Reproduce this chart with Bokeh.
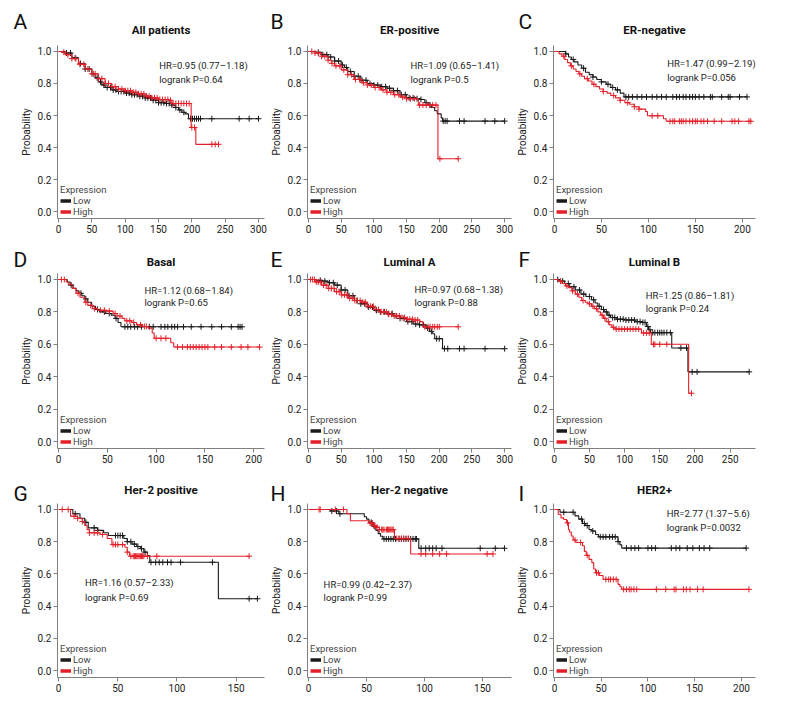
import numpy as np
from bokeh.plotting import figure
from bokeh.layouts import column, row
from bokeh.models import Label, Legend, LegendItem, FixedTicker, PrintfTickFormatter, Title
from bokeh.embed import file_html
from bokeh.resources import INLINE

# ---------------- data ----------------
# Panel A  All patients
A_low_t = [0, 10, 20, 30, 40, 50, 55, 60, 65, 70, 80, 90, 100, 110, 120, 130, 140, 150, 160, 170, 175, 180, 185, 190, 195, 300]
A_low_s = [1.0, 0.99, 0.96, 0.925, 0.89, 0.86, 0.835, 0.81, 0.79, 0.775, 0.76, 0.75, 0.74, 0.73, 0.72, 0.71, 0.695, 0.68, 0.675, 0.665, 0.65, 0.635, 0.62, 0.61, 0.58, 0.58]
A_low_c = [12, 18, 25, 33, 40, 46, 52, 58, 63, 68, 73, 78, 82, 86, 90, 94, 98, 102, 106, 110, 114, 118, 122, 126, 130, 134, 138, 142, 146, 150, 154, 158, 162, 166, 170, 176, 182, 188, 198, 201, 204, 207, 210, 213, 230, 271, 286, 300]
A_high_t = [0, 5, 10, 20, 30, 40, 50, 60, 70, 80, 90, 100, 110, 120, 130, 140, 150, 165, 170, 199, 206, 240]
A_high_s = [1.0, 0.995, 0.98, 0.955, 0.92, 0.89, 0.86, 0.83, 0.80, 0.78, 0.765, 0.755, 0.745, 0.735, 0.72, 0.71, 0.70, 0.695, 0.675, 0.525, 0.42, 0.42]
A_high_c = [8, 14, 20, 26, 32, 38, 44, 50, 55, 60, 65, 70, 75, 80, 85, 90, 95, 100, 104, 108, 112, 116, 120, 124, 128, 132, 136, 140, 144, 148, 152, 156, 160, 164, 168, 172, 176, 180, 184, 188, 192, 196, 200, 204, 230, 235, 240]

# Panel B  ER-positive
B_low_t = [0, 10, 20, 30, 40, 50, 55, 60, 70, 80, 90, 100, 110, 120, 130, 140, 150, 165, 172, 178, 183, 188, 193, 197, 203, 205, 300]
B_low_s = [1.0, 0.995, 0.98, 0.965, 0.94, 0.915, 0.90, 0.875, 0.845, 0.82, 0.80, 0.79, 0.78, 0.77, 0.755, 0.73, 0.71, 0.705, 0.70, 0.68, 0.665, 0.65, 0.63, 0.61, 0.585, 0.565, 0.565]
B_low_c = [15, 22, 28, 34, 40, 46, 52, 58, 64, 70, 76, 82, 88, 94, 100, 106, 112, 118, 124, 130, 136, 142, 148, 154, 160, 166, 172, 180, 186, 206, 209, 212, 231, 238, 270, 285, 300]
B_high_t = [0, 10, 20, 30, 35, 40, 50, 60, 70, 80, 90, 100, 110, 120, 130, 140, 150, 168, 198, 229]
B_high_s = [1.0, 0.99, 0.97, 0.945, 0.925, 0.91, 0.885, 0.855, 0.825, 0.805, 0.79, 0.775, 0.76, 0.745, 0.73, 0.715, 0.705, 0.665, 0.33, 0.33]
B_high_c = [5, 10, 15, 20, 25, 30, 36, 42, 48, 54, 60, 66, 72, 78, 84, 90, 96, 102, 108, 114, 120, 126, 132, 138, 144, 150, 156, 162, 170, 175, 180, 185, 190, 195, 201, 229]

# Panel C  ER-negative
C_low_t = [0, 12, 15, 18, 21, 25, 29, 33, 37, 41, 45, 50, 55, 60, 65, 70, 74, 205]
C_low_s = [1.0, 0.985, 0.965, 0.95, 0.935, 0.915, 0.895, 0.87, 0.855, 0.84, 0.825, 0.81, 0.795, 0.775, 0.76, 0.74, 0.716, 0.716]
C_low_c = [12, 20, 31, 41, 50, 57, 62, 67, 76, 79, 83, 88, 93, 98, 104, 109, 114, 119, 126, 130, 133, 137, 140, 144, 147, 150, 154, 159, 166, 168, 178, 185, 187, 197, 205]
C_high_t = [0, 5, 8, 11, 14, 17, 20, 23, 26, 29, 32, 36, 40, 44, 48, 52, 56, 60, 65, 70, 75, 80, 85, 90, 97, 99, 116, 119, 209]
C_high_s = [1.0, 0.985, 0.97, 0.95, 0.93, 0.91, 0.89, 0.875, 0.86, 0.845, 0.83, 0.815, 0.795, 0.78, 0.765, 0.75, 0.74, 0.725, 0.71, 0.695, 0.68, 0.67, 0.655, 0.64, 0.625, 0.598, 0.58, 0.564, 0.564]
C_high_c = [10, 18, 27, 35, 42, 52, 63, 70, 78, 85, 90, 104, 110, 123, 126, 128, 133, 135, 137, 140, 144, 147, 150, 152, 156, 159, 163, 170, 178, 189, 192, 196, 207, 209]

# Panel D  Basal
D_low_t = [0, 9, 12, 15, 18, 21, 24, 27, 30, 34, 38, 42, 48, 54, 58, 61, 64, 188]
D_low_s = [1.0, 0.985, 0.965, 0.945, 0.93, 0.915, 0.90, 0.88, 0.86, 0.835, 0.815, 0.80, 0.79, 0.78, 0.76, 0.735, 0.708, 0.708]
D_low_c = [13, 23, 28, 40, 47, 52, 59, 68, 71, 74, 78, 81, 85, 93, 97, 105, 109, 112, 116, 119, 122, 128, 136, 146, 157, 167, 177, 184, 186, 188]
D_high_t = [0, 8, 10, 14, 18, 22, 27, 30, 35, 40, 50, 56, 60, 65, 68, 75, 80, 86, 92, 96, 98, 115, 118, 206]
D_high_s = [1.0, 0.985, 0.97, 0.945, 0.915, 0.89, 0.86, 0.84, 0.82, 0.81, 0.805, 0.79, 0.775, 0.76, 0.745, 0.735, 0.72, 0.71, 0.70, 0.67, 0.637, 0.61, 0.583, 0.583]
D_high_c = [3, 6, 20, 28, 33, 37, 43, 47, 52, 58, 63, 70, 73, 77, 84, 88, 90, 100, 105, 110, 122, 127, 132, 135, 138, 141, 144, 147, 150, 153, 160, 167, 177, 187, 194, 206]

# Panel E  Luminal A
E_low_t = [0, 10, 20, 30, 40, 50, 60, 70, 80, 90, 100, 110, 120, 130, 140, 150, 160, 170, 180, 185, 190, 193, 205, 300]
E_low_s = [1.0, 0.995, 0.99, 0.98, 0.965, 0.935, 0.90, 0.87, 0.85, 0.83, 0.81, 0.80, 0.79, 0.775, 0.76, 0.74, 0.725, 0.72, 0.70, 0.68, 0.665, 0.635, 0.573, 0.573]
E_low_c = [18, 25, 32, 38, 44, 50, 56, 62, 68, 74, 80, 86, 92, 98, 104, 110, 116, 122, 128, 134, 140, 146, 152, 158, 164, 170, 176, 182, 188, 196, 200, 208, 213, 231, 238, 270, 300]
E_high_t = [0, 10, 20, 30, 40, 50, 60, 70, 80, 90, 100, 110, 120, 130, 140, 150, 160, 170, 175, 229]
E_high_s = [1.0, 0.985, 0.965, 0.945, 0.925, 0.905, 0.885, 0.87, 0.86, 0.835, 0.815, 0.80, 0.785, 0.775, 0.765, 0.755, 0.75, 0.74, 0.708, 0.708]
E_high_c = [3, 6, 9, 12, 15, 19, 23, 27, 31, 35, 39, 43, 47, 51, 55, 59, 63, 67, 71, 75, 79, 83, 87, 91, 95, 99, 103, 107, 111, 115, 119, 123, 127, 131, 135, 139, 143, 147, 151, 155, 159, 163, 167, 178, 183, 186, 190, 193, 197, 200, 229]

# Panel F  Luminal B
F_low_t = [0, 8, 15, 22, 30, 38, 45, 53, 58, 62, 67, 71, 76, 80, 88, 100, 115, 125, 131, 134, 137, 167, 190, 277]
F_low_s = [1.0, 0.99, 0.975, 0.955, 0.935, 0.91, 0.895, 0.875, 0.855, 0.835, 0.815, 0.80, 0.78, 0.765, 0.755, 0.75, 0.74, 0.735, 0.71, 0.69, 0.672, 0.577, 0.43, 0.43]
F_low_c = [5, 12, 20, 28, 36, 42, 50, 56, 64, 70, 74, 78, 83, 86, 90, 94, 98, 102, 106, 110, 114, 118, 122, 126, 129, 133, 136, 140, 143, 147, 150, 153, 156, 160, 165, 180, 188, 196, 203, 277]
F_high_t = [0, 6, 11, 16, 20, 25, 30, 35, 39, 44, 48, 53, 57, 62, 66, 70, 74, 78, 82, 86, 124, 138, 191, 195]
F_high_s = [1.0, 0.99, 0.975, 0.96, 0.95, 0.93, 0.91, 0.89, 0.87, 0.86, 0.85, 0.835, 0.82, 0.80, 0.78, 0.76, 0.74, 0.72, 0.705, 0.694, 0.67, 0.60, 0.298, 0.298]
F_high_c = [9, 18, 26, 33, 41, 50, 55, 60, 68, 72, 77, 84, 88, 92, 96, 100, 104, 108, 112, 116, 120, 127, 131, 135, 141, 143, 150, 160, 195]

# Panel G  Her-2 positive
G_low_t = [0, 12, 18, 22, 25, 33, 38, 42, 55, 58, 62, 66, 69, 72, 75, 77, 135, 168]
G_low_s = [1.0, 0.973, 0.945, 0.92, 0.886, 0.87, 0.855, 0.838, 0.82, 0.80, 0.785, 0.77, 0.757, 0.735, 0.714, 0.672, 0.446, 0.446]
G_low_c = [14, 23, 30, 33, 48, 50, 52, 54, 58, 61, 64, 67, 70, 73, 78, 82, 85, 88, 92, 95, 103, 130, 161, 168]
G_high_t = [0, 10, 16, 20, 22, 24, 26, 35, 41, 45, 56, 58, 60, 161]
G_high_s = [1.0, 0.958, 0.945, 0.925, 0.90, 0.875, 0.855, 0.845, 0.82, 0.782, 0.765, 0.735, 0.71, 0.71]
G_high_c = [3, 8, 13, 16, 20, 26, 30, 33, 37, 46, 48, 50, 54, 58, 61, 63, 64, 65, 66, 67, 68, 69, 70, 71, 72, 75, 83, 161]

# Panel H  Her-2 negative
H_low_t = [0, 19, 26, 48, 50, 52, 55, 58, 60, 62, 64, 95, 169]
H_low_s = [1.0, 0.99, 0.973, 0.955, 0.94, 0.92, 0.895, 0.87, 0.85, 0.834, 0.817, 0.759, 0.759]
H_low_c = [20, 24, 27, 54, 57, 65, 67, 69, 71, 73, 75, 78, 80, 82, 84, 86, 88, 90, 92, 93, 97, 101, 104, 107, 110, 115, 148, 161, 169]
H_high_t = [0, 33, 36, 52, 56, 58, 61, 74, 88, 159]
H_high_s = [1.0, 0.973, 0.93, 0.915, 0.90, 0.89, 0.875, 0.82, 0.724, 0.724]
H_high_c = [9, 10, 23, 30, 53, 55, 56, 57, 59, 61, 63, 64, 65, 67, 68, 69, 70, 71, 72, 73, 76, 78, 80, 82, 84, 86, 97, 101, 107, 113, 119, 154, 159]

# Panel I  HER2+
I_low_t = [0, 6, 22, 26, 30, 33, 37, 40, 44, 47, 68, 70, 72, 205]
I_low_s = [1.0, 0.983, 0.96, 0.94, 0.913, 0.90, 0.876, 0.866, 0.845, 0.83, 0.80, 0.78, 0.76, 0.76]
I_low_c = [10, 20, 29, 32, 35, 41, 49, 52, 55, 59, 62, 65, 68, 77, 82, 86, 90, 100, 104, 108, 125, 130, 134, 142, 148, 155, 160, 166, 205]
I_high_t = [0, 4, 7, 10, 13, 15, 16, 18, 20, 23, 30, 32, 34, 37, 40, 42, 44, 48, 52, 68, 70, 72, 208]
I_high_s = [1.0, 0.97, 0.948, 0.938, 0.917, 0.876, 0.86, 0.835, 0.81, 0.795, 0.775, 0.74, 0.715, 0.69, 0.67, 0.63, 0.607, 0.59, 0.566, 0.535, 0.52, 0.504, 0.504]
I_high_c = [14, 22, 28, 35, 45, 47, 55, 58, 60, 63, 66, 74, 77, 80, 82, 85, 88, 109, 119, 128, 130, 138, 141, 145, 153, 159, 208]

titles = ["All patients", "ER-positive", "ER-negative", "Basal", "Luminal A", "Luminal B",
          "Her-2 positive", "Her-2 negative", "HER2+"]
letters = ["A", "B", "C", "D", "E", "F", "G", "H", "I"]
hr_text = ["HR=0.95 (0.77–1.18)", "HR=1.09 (0.65–1.41)", "HR=1.47 (0.99–2.19)",
           "HR=1.12 (0.68–1.84)", "HR=0.97 (0.68–1.38)", "HR=1.25 (0.86–1.81)",
           "HR=1.16 (0.57–2.33)", "HR=0.99 (0.42–2.37)", "HR=2.77 (1.37–5.6)"]
p_text = ["logrank P=0.64", "logrank P=0.5", "logrank P=0.056",
          "logrank P=0.65", "logrank P=0.88", "logrank P=0.24",
          "logrank P=0.69", "logrank P=0.99", "logrank P=0.0032"]
x_ticks = [[0, 50, 100, 150, 200, 250, 300], [0, 50, 100, 150, 200, 250, 300], [0, 50, 100, 150, 200],
           [0, 50, 100, 150, 200], [0, 50, 100, 150, 200, 250, 300], [0, 50, 100, 150, 200, 250],
           [0, 50, 100, 150], [0, 50, 100, 150], [0, 50, 100, 150, 200]]
y_ticks = [0.0, 0.2, 0.4, 0.6, 0.8, 1.0]
legend_labels = ["Low", "High"]

curves = {
    "A": (A_low_t, A_low_s, A_low_c, A_high_t, A_high_s, A_high_c),
    "B": (B_low_t, B_low_s, B_low_c, B_high_t, B_high_s, B_high_c),
    "C": (C_low_t, C_low_s, C_low_c, C_high_t, C_high_s, C_high_c),
    "D": (D_low_t, D_low_s, D_low_c, D_high_t, D_high_s, D_high_c),
    "E": (E_low_t, E_low_s, E_low_c, E_high_t, E_high_s, E_high_c),
    "F": (F_low_t, F_low_s, F_low_c, F_high_t, F_high_s, F_high_c),
    "G": (G_low_t, G_low_s, G_low_c, G_high_t, G_high_s, G_high_c),
    "H": (H_low_t, H_low_s, H_low_c, H_high_t, H_high_s, H_high_c),
    "I": (I_low_t, I_low_s, I_low_c, I_high_t, I_high_s, I_high_c),
}

# ---------------- styles / layout ----------------
FONT = "Roboto"
BLACK = "#1a1a1a"
RED = "#e3202a"
AXIS = "#808080"
Y_RANGE = (-0.043, 1.037)
x_ranges = [(-1.5, 309), (-1.5, 310.5), (-1, 214), (-1, 211), (-1.5, 310.5), (-1, 286),
            (-1, 174), (-1, 175), (-1, 215)]
hr_pos = [(151, 0.91, 0.825), (156, 0.91, 0.825), (120, 0.925, 0.84),
          (88, 0.933, 0.856), (162, 0.94, 0.86), (130, 0.90, 0.82),
          (22.3, 0.544, 0.456), (12.9, 0.533, 0.454), (120, 0.975, 0.886)]
col_w = [267, 246, 250]
col_border = [(57, 3), (37, 2), (35, 8)]
row_h = [240, 230, 234]
row_border = [(45, 22), (33, 22), (33, 27)]
letter_dx = [-44, -37, -35, -44, -37, -35, -44, -37, -35]
row_title_standoff = [17.4, 8.4, 14]
row_letter_standoff = [-42, -45.4, -65]


def surv_at(t, s, c):
    idx = np.searchsorted(np.asarray(t), np.asarray(c), side="right") - 1
    return np.asarray(s)[idx]


def make_panel(i):
    r, c = divmod(i, 3)
    key = letters[i]
    lt, ls, lc, ht, hs, hc = curves[key]
    xs, xe = x_ranges[i]
    p = figure(width=col_w[c], height=row_h[r], x_range=(xs, xe), y_range=Y_RANGE,
               output_backend="svg", toolbar_location=None,
               min_border_left=col_border[c][0], min_border_right=col_border[c][1],
               min_border_top=row_border[r][0], min_border_bottom=row_border[r][1])
    p.outline_line_color = None
    p.grid.visible = False

    # panel letter = plot title (outermost), panel name = inner title
    p.title.text = key
    p.title.align = "left"
    p.title.offset = letter_dx[i]
    p.title.text_font = FONT
    p.title.text_font_size = "21px"
    p.title.text_font_style = "normal"
    p.title.text_color = "#111111"
    p.title.standoff = row_letter_standoff[r]

    p.add_layout(Title(text=titles[i], align="center", text_font=FONT, text_font_size="11.5px",
                       text_font_style="bold", text_color="#111111",
                       standoff=row_title_standoff[r]), "above")

    for ax in (p.xaxis[0], p.yaxis[0]):
        ax.axis_line_color = AXIS
        ax.major_tick_line_color = AXIS
        ax.minor_tick_line_color = None
        ax.major_tick_out = 4
        ax.major_tick_in = 0
        ax.major_label_text_font = FONT
        ax.major_label_text_font_size = "10px"
        ax.major_label_text_color = "#222222"
        ax.major_label_standoff = 2
    p.xaxis.ticker = FixedTicker(ticks=x_ticks[i])
    p.yaxis.ticker = FixedTicker(ticks=y_ticks)
    p.yaxis.formatter = PrintfTickFormatter(format="%.1f")
    p.yaxis.axis_label = "Probability"
    p.yaxis.axis_label_text_font = FONT
    p.yaxis.axis_label_text_font_size = "10px"
    p.yaxis.axis_label_text_font_style = "normal"
    p.yaxis.axis_label_text_color = "#222222"
    p.yaxis.axis_label_standoff = 3

    # curves: low (black) and high (red)
    for t, s, cen, col in ((lt, ls, lc, BLACK), (ht, hs, hc, RED)):
        p.step(x=t, y=s, mode="after", line_color=col, line_width=1.1)
        p.scatter(x=cen, y=surv_at(t, s, cen), marker="cross", size=6,
                  line_color=col, line_width=1)

    # legend with thick line glyphs
    dl = p.line(x=[np.nan], y=[np.nan], line_color=BLACK, line_width=3.5)
    dh = p.line(x=[np.nan], y=[np.nan], line_color=RED, line_width=3.5)
    leg = Legend(items=[LegendItem(label=legend_labels[0], renderers=[dl]),
                        LegendItem(label=legend_labels[1], renderers=[dh])],
                 title="Expression", location=(3, 1), orientation="vertical",
                 label_text_font=FONT, label_text_font_size="9.5px",
                 title_text_font=FONT, title_text_font_size="9.5px",
                 title_text_font_style="normal", title_standoff=0,
                 label_height=9, glyph_height=9, glyph_width=11, label_standoff=2,
                 spacing=0, padding=0, margin=0,
                 background_fill_alpha=0, border_line_color=None)
    p.add_layout(leg)

    hx, hy1, hy2 = hr_pos[i]
    for txt, yy in ((hr_text[i], hy1), (p_text[i], hy2)):
        p.add_layout(Label(x=hx, y=yy, text=txt, text_font=FONT, text_font_size="9.5px",
                           text_color="#222222", text_baseline="middle", text_align="left"))
    return p


panels = [make_panel(i) for i in range(9)]
layout = column(row(*panels[0:3]), row(*panels[3:6]), row(*panels[6:9]))

open("out.html", "w").write(file_html(layout, INLINE))
